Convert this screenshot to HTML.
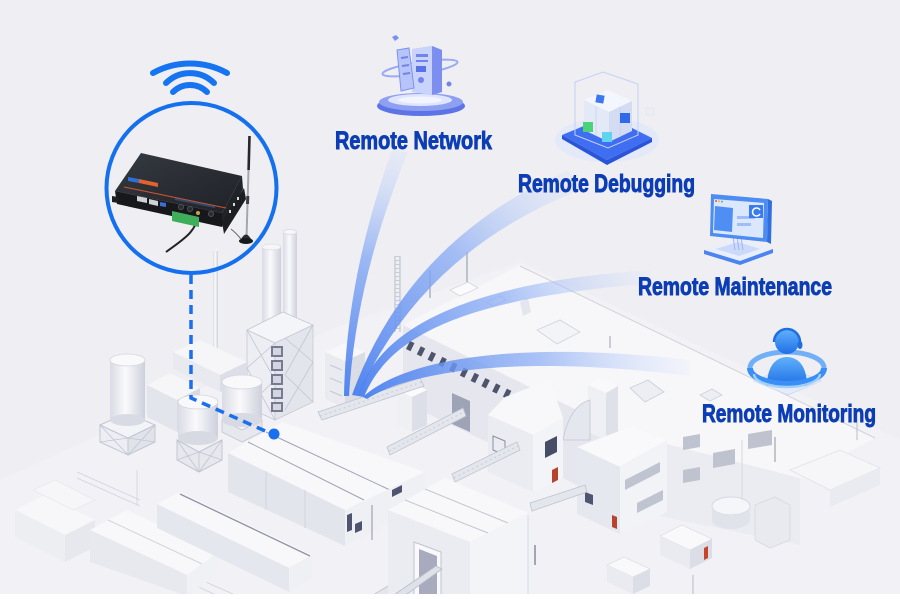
<!DOCTYPE html>
<html><head><meta charset="utf-8">
<style>
html,body{margin:0;padding:0;background:#efeff3;}
svg{display:block;}
.lbl{font-family:"Liberation Sans Narrow","Liberation Sans",Arial,sans-serif;font-weight:bold;fill:#0c3db4;stroke:#0c3db4;stroke-width:0.9;}
</style></head><body>
<svg width="900" height="599" viewBox="0 0 900 599" xmlns="http://www.w3.org/2000/svg">
<defs>
<linearGradient id="b1" gradientUnits="userSpaceOnUse" x1="346" y1="396" x2="400" y2="150">
<stop offset="0" stop-color="#4a80ef" stop-opacity="0.95"/><stop offset="0.55" stop-color="#86a9f4" stop-opacity="0.8"/><stop offset="1" stop-color="#c8d7fa" stop-opacity="0.2"/></linearGradient>
<linearGradient id="b2" gradientUnits="userSpaceOnUse" x1="355" y1="395" x2="575" y2="178">
<stop offset="0" stop-color="#4a80ef" stop-opacity="0.95"/><stop offset="0.55" stop-color="#89abf4" stop-opacity="0.75"/><stop offset="1" stop-color="#c8d7fa" stop-opacity="0.15"/></linearGradient>
<linearGradient id="b3" gradientUnits="userSpaceOnUse" x1="360" y1="396" x2="650" y2="276">
<stop offset="0" stop-color="#4a80ef" stop-opacity="0.95"/><stop offset="0.55" stop-color="#8aacf4" stop-opacity="0.7"/><stop offset="1" stop-color="#c8d7fa" stop-opacity="0.1"/></linearGradient>
<linearGradient id="b4" gradientUnits="userSpaceOnUse" x1="365" y1="398" x2="690" y2="368">
<stop offset="0" stop-color="#4a80ef" stop-opacity="0.95"/><stop offset="0.55" stop-color="#8aacf4" stop-opacity="0.7"/><stop offset="1" stop-color="#c8d7fa" stop-opacity="0.1"/></linearGradient>
<linearGradient id="cyl" x1="0" x2="1" y1="0" y2="0">
<stop offset="0" stop-color="#d9dbe5"/><stop offset="0.45" stop-color="#fafafc"/><stop offset="1" stop-color="#cdd0dc"/></linearGradient>
<linearGradient id="rt" x1="0" x2="1" y1="0" y2="1">
<stop offset="0" stop-color="#353a41"/><stop offset="1" stop-color="#1f2227"/></linearGradient>
<linearGradient id="gp" x1="0" x2="0" y1="0" y2="1">
<stop offset="0" stop-color="#5fb0fb"/><stop offset="1" stop-color="#1f6fe6"/></linearGradient>
<linearGradient id="srv" x1="0" x2="1" y1="0" y2="0">
<stop offset="0" stop-color="#c3cdfb"/><stop offset="1" stop-color="#8093ef"/></linearGradient>
</defs>

<rect width="900" height="599" fill="#efeff3"/>
<polygon points="0,480 330,330 520,262 900,440 900,599 0,599" fill="#f2f2f6"/>

<!-- Main building M -->
<polygon points="403,325 520,265 875,438 800,478 640,441" fill="#f7f7fa"/>
<polyline points="520,266 875,438" stroke="#d0d2dc" stroke-width="1" fill="none"/>
<polygon points="403,325 640,441 640,515 403,402" fill="#e6e7ee"/>
<line x1="408" y1="345" x2="540" y2="410" stroke="#4e546c" stroke-width="9" stroke-dasharray="5 7"/>
<!-- roof equipment -->
<polygon points="450,290 468,282 478,288 460,296" fill="#fbfbfd" stroke="#d3d6df" stroke-width="0.8"/>
<polygon points="487,302 500,296 506,300 493,306" fill="#fbfbfd" stroke="#d3d6df" stroke-width="0.8"/>
<polygon points="520,302 528,298 531,312 523,316" fill="#e4e6ed"/>
<polygon points="537,330 560,320 580,332 557,344" fill="#f3f4f7" stroke="#cfd2dc" stroke-width="0.8"/>
<polygon points="630,388 648,380 664,392 645,402" fill="#eceef3" stroke="#c9ccd6" stroke-width="0.8"/>
<polygon points="700,395 712,389 722,395 710,401" fill="#eceef3" stroke="#cdd0da" stroke-width="0.8"/>
<line x1="467" y1="252" x2="467" y2="282" stroke="#9ea2b2" stroke-width="1.2"/>
<line x1="430" y1="270" x2="430" y2="298" stroke="#9ea2b2" stroke-width="1.2"/>
<line x1="610" y1="336" x2="610" y2="348" stroke="#9ea2b2" stroke-width="1"/>
<line x1="395" y1="256" x2="395" y2="332" stroke="#b9bcc9" stroke-width="1"/>
<line x1="400" y1="256" x2="400" y2="332" stroke="#b9bcc9" stroke-width="1"/>
<line x1="397.5" y1="256" x2="397.5" y2="332" stroke="#c9ccd6" stroke-width="5" stroke-dasharray="1 3"/>

<!-- H section with window strips -->
<polygon points="620,432 800,478 800,545 620,508" fill="#ebecf2"/>
<polygon points="623,458 660,452 660,467 623,473" fill="#bfc2cf"/>
<polygon points="683,437 700,434 700,447 683,450" fill="#bfc2cf"/>
<polygon points="713,453 735,449 735,464 713,468" fill="#bfc2cf"/>
<polygon points="748,434 772,430 772,445 748,449" fill="#bfc2cf"/>
<polygon points="683,470 700,467 700,480 683,483" fill="#bfc2cf"/>
<polygon points="635,488 662,483 662,499 635,504" fill="#bfc2cf"/>
<line x1="742" y1="440" x2="742" y2="500" stroke="#d6d8e1" stroke-width="1"/>
<line x1="775" y1="437" x2="775" y2="462" stroke="#8e92a3" stroke-width="1"/>

<!-- right ground objects -->
<polygon points="790,470 840,450 880,468 830,490" fill="#f6f6f9" stroke="#e0e2e9" stroke-width="0.8"/>
<polygon points="830,490 880,468 880,485 830,507" fill="#e9ebf1"/>
<ellipse cx="731" cy="506" rx="19" ry="9" fill="#f5f6f9" stroke="#cfd2dc" stroke-width="0.8"/>
<path d="M712,506 L712,520 A19,9 0 0 0 750,520 L750,506 A19,9 0 0 1 712,506 Z" fill="#e1e3eb"/>
<polygon points="755,505 775,497 790,505 790,540 770,548 755,540" fill="#e8eaf0" stroke="#cfd2dc" stroke-width="0.6"/>
<polygon points="660,536 682,525 712,539 690,550" fill="#f9f9fb" stroke="#d6d8e0" stroke-width="0.6"/>
<polygon points="660,536 690,550 690,569 660,555" fill="#e9ebf1"/>
<polygon points="690,550 712,539 712,558 690,569" fill="#dcdee7"/>
<polygon points="704,548 708,546 708,558 704,560" fill="#c8452c"/>
<polygon points="607,565 624,557 650,569 633,577" fill="#f9f9fb" stroke="#d6d8e0" stroke-width="0.6"/>
<polygon points="607,565 633,577 633,594 607,582" fill="#e9ebf1"/>
<polygon points="633,577 650,569 650,586 633,594" fill="#dcdee7"/>
<line x1="693" y1="575" x2="693" y2="599" stroke="#b8bbc8" stroke-width="1"/>
<line x1="857" y1="410" x2="857" y2="440" stroke="#b8bbc8" stroke-width="1"/>

<!-- Tower G -->
<polygon points="588,385 600,378 618,386 606,393" fill="#f9f9fb"/>
<polygon points="588,385 606,393 606,440 588,432" fill="#eef0f4"/>
<polygon points="606,393 618,386 618,433 606,440" fill="#dfe1e9"/>
<path d="M563,440 Q570,405 590,400 L590,440 Z" fill="#e5e7ee" stroke="#c4c7d3" stroke-width="0.8"/>

<!-- Building F -->
<polygon points="577,447 630,427 667,440 620,467" fill="#f9f9fb"/>
<polygon points="577,447 620,467 620,534 577,514" fill="#e6e8ef"/>
<polygon points="620,467 667,440 667,512 620,534" fill="#f2f3f6"/>
<polygon points="625,480 660,462 660,472 625,490" fill="#c0c4d1"/>
<polygon points="637,503 663,490 663,500 637,513" fill="#c0c4d1"/>
<polygon points="585,492 593,495 593,505 585,502" fill="#4f5570"/>
<polygon points="612,515 617,517 617,529 612,527" fill="#b8432c"/>

<!-- Building E -->
<polygon points="488,415 505,397 550,380 563,418 533,435" fill="#f8f8fb"/>
<polygon points="488,415 533,435 533,492 488,472" fill="#eaecf1"/>
<polygon points="533,435 563,418 563,478 533,492" fill="#f3f4f7"/>
<polygon points="545,442 557,436 557,452 545,458" fill="#474d66"/>
<polygon points="552,470 558,467 558,480 552,483" fill="#b8432c"/>
<polygon points="493,436 505,441 505,455 493,450" fill="none" stroke="#8a8ea0" stroke-width="1"/>

<!-- annex stuff -->
<polygon points="452,393 470,401 470,432 452,424" fill="#9fa3b6"/>
<polygon points="397,390 412,383 427,390 412,397" fill="#fbfbfd"/>
<polygon points="397,390 412,397 412,432 397,425" fill="#eef0f4"/>
<polygon points="412,397 427,390 427,425 412,432" fill="#dcdfe8"/>
<polygon points="325,352 345,343 365,352 345,361" fill="#f8f8fb"/>
<polygon points="325,352 345,361 345,408 325,399" fill="#e9ebf1"/>
<polygon points="345,361 365,352 365,399 345,408" fill="#dadde6"/>
<line x1="330" y1="365" x2="342" y2="370" stroke="#c5c8d4" stroke-width="1"/>
<line x1="330" y1="378" x2="342" y2="383" stroke="#c5c8d4" stroke-width="1"/>
<line x1="330" y1="391" x2="342" y2="396" stroke="#c5c8d4" stroke-width="1"/>

<!-- conveyors -->
<g fill="#e4e6ed" stroke="#bfc3cf" stroke-width="0.8">
<polygon points="387,447 463,408 466,416 390,455"/>
<polygon points="452,474 517,442 520,450 455,482"/>
<polygon points="530,503 585,485 587,492 532,511"/>
<polygon points="318,412 420,378 424,386 322,420"/>
<polygon points="432,560 440,565 382,599 366,599"/>
</g>
<g stroke="#c9ccd7" stroke-width="1" stroke-dasharray="2 3" fill="none">
<line x1="389" y1="451" x2="464" y2="412"/>
<line x1="454" y1="478" x2="518" y2="446"/>
<line x1="320" y1="416" x2="422" y2="382"/>
</g>

<!-- chimneys & pipe -->
<rect x="262" y="247" width="19" height="85" fill="url(#cyl)"/>
<ellipse cx="271.5" cy="247" rx="9.5" ry="3" fill="#f6f6f9" stroke="#d2d5de" stroke-width="0.6"/>
<rect x="283" y="232" width="14" height="92" fill="url(#cyl)"/>
<ellipse cx="290" cy="232" rx="7" ry="2.4" fill="#f6f6f9" stroke="#d2d5de" stroke-width="0.6"/>
<rect x="213" y="250" width="5" height="138" fill="url(#cyl)"/>
<ellipse cx="215.5" cy="250" rx="2.5" ry="1.2" fill="#f1f2f6"/>

<!-- tower -->
<polygon points="247,330 283,312 313,325 275,343" fill="#f4f5f8" stroke="#c6c9d4" stroke-width="0.8"/>
<polygon points="247,330 275,343 275,420 247,407" fill="#eceef3" stroke="#c6c9d4" stroke-width="0.8"/>
<polygon points="275,343 313,325 313,402 275,420" fill="#e3e5ec" stroke="#c6c9d4" stroke-width="0.8"/>
<g stroke="#c3c6d2" stroke-width="0.8">
<line x1="247" y1="330" x2="275" y2="380"/><line x1="275" y1="343" x2="247" y2="368"/>
<line x1="247" y1="368" x2="275" y2="420"/><line x1="275" y1="380" x2="247" y2="407"/>
<line x1="285" y1="338" x2="313" y2="362"/><line x1="313" y1="325" x2="285" y2="375"/>
<line x1="285" y1="375" x2="313" y2="402"/><line x1="313" y1="362" x2="285" y2="410"/>
</g>
<g fill="#767b92">
<rect x="271" y="346" width="12" height="11"/><rect x="271" y="360" width="12" height="11"/>
<rect x="271" y="374" width="12" height="11"/><rect x="271" y="388" width="12" height="11"/>
<rect x="271" y="402" width="12" height="10"/>
</g>
<g fill="#d3d6e0">
<rect x="273" y="348" width="8" height="7"/><rect x="273" y="362" width="8" height="7"/>
<rect x="273" y="376" width="8" height="7"/><rect x="273" y="390" width="8" height="7"/>
<rect x="273" y="404" width="8" height="6"/>
</g>

<!-- low buildings behind tanks -->
<polygon points="173,352 200,340 247,362 220,375" fill="#f6f6f9"/>
<polygon points="173,352 220,375 220,392 173,369" fill="#e8eaf0"/>
<polygon points="220,375 247,362 247,379 220,392" fill="#dcdfe7"/>
<polygon points="147,385 170,373 200,388 177,400" fill="#f6f6f9"/>
<polygon points="147,385 177,400 177,432 147,417" fill="#e3e5ec"/>
<polygon points="177,400 200,388 200,420 177,432" fill="#d7dae4"/>

<!-- tank 1 -->
<polygon points="100,425 128,438 128,455 100,442" fill="#eceef3" stroke="#c2c5d1" stroke-width="1"/>
<polygon points="128,438 155,425 155,442 128,455" fill="#e1e3eb" stroke="#c2c5d1" stroke-width="1"/>
<polygon points="100,425 127,413 155,425 128,438" fill="#f3f4f7" stroke="#c2c5d1" stroke-width="1"/>
<g stroke="#c2c5d1" stroke-width="0.8"><line x1="100" y1="425" x2="128" y2="455"/><line x1="128" y1="438" x2="100" y2="442"/><line x1="128" y1="438" x2="155" y2="442"/><line x1="155" y1="425" x2="128" y2="455"/></g>
<rect x="110" y="360" width="35" height="60" fill="url(#cyl)"/>
<ellipse cx="127.5" cy="420" rx="17.5" ry="6" fill="#d9dbe4"/>
<ellipse cx="127.5" cy="360" rx="17.5" ry="6" fill="#f9f9fb" stroke="#d3d6df" stroke-width="0.8"/>

<!-- tank 3 -->
<polygon points="222,420 242,430 262,420 262,432 242,442 222,432" fill="#e6e8ee" stroke="#c2c5d1" stroke-width="0.8"/>
<rect x="222" y="382" width="40" height="38" fill="url(#cyl)"/>
<ellipse cx="242" cy="420" rx="20" ry="7" fill="#d7dae3"/>
<ellipse cx="242" cy="382" rx="20" ry="7" fill="#f9f9fb" stroke="#d3d6df" stroke-width="0.8"/>

<!-- tank 2 -->
<polygon points="177,440 199,452 222,440 222,460 199,472 177,460" fill="#e6e8ee" stroke="#c2c5d1" stroke-width="1"/>
<g stroke="#c2c5d1" stroke-width="0.8"><line x1="177" y1="440" x2="199" y2="472"/><line x1="199" y1="452" x2="177" y2="460"/><line x1="199" y1="452" x2="222" y2="460"/><line x1="222" y1="440" x2="199" y2="472"/><line x1="199" y1="452" x2="199" y2="472"/></g>
<rect x="178" y="402" width="40" height="36" fill="url(#cyl)"/>
<ellipse cx="198" cy="438" rx="20" ry="7" fill="#d7dae3"/>
<ellipse cx="198" cy="402" rx="20" ry="7" fill="#f9f9fb" stroke="#d3d6df" stroke-width="0.8"/>

<!-- left railings -->
<g stroke="#cfd2dc" stroke-width="0.8" fill="none">
<polyline points="77,472 140,500"/><polyline points="77,478 140,506"/>
<line x1="137" y1="470" x2="137" y2="505"/>
<polyline points="183,572 233,594"/><polyline points="183,580 225,599"/>
</g>

<!-- Building D (faint far-left) -->
<polygon points="15,510 45,495 95,520 65,535" fill="#f7f7f9"/>
<polygon points="15,510 65,535 65,562 15,537" fill="#eceef2"/>
<polygon points="65,535 95,520 95,547 65,562" fill="#e6e8ee"/>
<polygon points="33,490 55,480 95,500 73,510" fill="#f6f6f8" stroke="#e3e5eb" stroke-width="0.6"/>

<!-- Building C -->
<polygon points="90,530 127,510 217,553 187,575" fill="#f8f8fa"/>
<polygon points="90,530 187,575 187,596 90,562" fill="#e7e9ef"/>
<polygon points="187,575 217,553 217,575 187,596" fill="#f0f1f5"/>
<line x1="108" y1="520" x2="202" y2="564" stroke="#d2d5de" stroke-width="1"/>

<!-- Building B -->
<polygon points="157,504 180,492 312,555 289,568" fill="#f8f8fa"/>
<polygon points="157,504 289,568 289,592 157,528" fill="#e5e7ee"/>
<polygon points="289,568 312,555 312,579 289,592" fill="#eff0f4"/>
<line x1="180" y1="494" x2="310" y2="556" stroke="#8e92a4" stroke-width="1.3"/>

<!-- Building A -->
<polygon points="228,453 282,422 425,472 345,510" fill="#f8f8fa"/>
<line x1="248" y1="442" x2="364" y2="500" stroke="#9ea2b3" stroke-width="1"/>
<line x1="266" y1="432" x2="390" y2="490" stroke="#9ea2b3" stroke-width="1"/>
<polygon points="228,453 345,510 345,546 228,492" fill="#e3e5ed"/>
<line x1="266" y1="471" x2="266" y2="510" stroke="#d2d5de" stroke-width="1"/>
<line x1="305" y1="490" x2="305" y2="528" stroke="#d2d5de" stroke-width="1"/>
<polygon points="345,510 425,472 425,505 345,546" fill="#eef0f4"/>
<polygon points="347,515 352,513 352,530 347,532" fill="#4f5570"/>
<polygon points="355,524 362,521 362,530 355,533" fill="#4f5570"/>
<polygon points="392,490 402,485 402,492 392,497" fill="#4f5570"/>
<line x1="372" y1="505" x2="372" y2="540" stroke="#8e92a3" stroke-width="1"/>

<!-- Building I (front) -->
<polygon points="388,510 445,478 528,513 470,542" fill="#f8f8fa"/>
<line x1="405" y1="500" x2="488" y2="533" stroke="#c4c7d2" stroke-width="1"/>
<line x1="425" y1="489" x2="508" y2="523" stroke="#c4c7d2" stroke-width="1"/>
<polygon points="388,510 470,542 470,596 388,596" fill="#ebecf2"/>
<polygon points="470,542 528,513 528,596 470,596" fill="#f3f4f7"/>
<polygon points="414,542 441,552 441,596 414,596" fill="#f9f9fb" stroke="#c0c3cf" stroke-width="1"/>
<polygon points="419,549 437,556 437,596 419,596" fill="#a7abbd"/>
<polygon points="436,566 442,569 400,599 388,599" fill="#dfe1e8" stroke="#b9bcc9" stroke-width="0.8"/>
<line x1="528" y1="515" x2="528" y2="596" stroke="#d8dae2" stroke-width="1"/>
<line x1="535" y1="545" x2="535" y2="565" stroke="#6e7286" stroke-width="1.2"/>

<rect x="0" y="594" width="900" height="5" fill="#ffffff"/>

<!-- beams -->
<path d="M344,396 Q346,278 392,150 L408,152 Q356,278 349,396 Z" fill="url(#b1)"/>
<path d="M352,395 Q408,240 568,170 L580,190 Q422,252 358,396 Z" fill="url(#b2)"/>
<path d="M358,396 C376,338 446,284 650,270 L650,284 C452,298 386,342 364,397 Z" fill="url(#b3)"/>
<path d="M363,397 C398,364 500,338 690,360 L690,376 C500,352 402,376 367,399 Z" fill="url(#b4)"/>

<!-- dashed connector -->
<path d="M191,275 L191,398 L272,434" stroke="#1a6ff0" stroke-width="3.5" fill="none" stroke-dasharray="9 6"/>
<circle cx="274" cy="434" r="5.5" fill="#1a6ff0"/>

<!-- wifi -->
<g stroke="#1674f0" stroke-width="6" fill="none" stroke-linecap="round">
<path d="M153,73 A77,77 0 0 1 227,73"/>
<path d="M166,83 A34,34 0 0 1 214,83"/>
<path d="M173,92 A24,24 0 0 1 207,92"/>
</g>

<!-- circle -->
<circle cx="191.5" cy="188" r="85" fill="none" stroke="#1570ef" stroke-width="4"/>

<!-- router -->
<path d="M198,214 C197,232 182,240 166,252" stroke="#222428" stroke-width="2" fill="none"/>
<line x1="249.5" y1="136" x2="246.5" y2="238" stroke="#a3a7ae" stroke-width="2"/>
<line x1="249.5" y1="136" x2="248.6" y2="170" stroke="#25282d" stroke-width="2.6"/>
<line x1="247.8" y1="196" x2="247.5" y2="204" stroke="#3a3d44" stroke-width="3"/>
<path d="M240,241 Q246,228 252,241 Z" fill="#2a2c31"/>
<ellipse cx="246" cy="241" rx="7" ry="3" fill="#17191c"/>
<path d="M241,239 Q236,233 231,229" stroke="#666" stroke-width="1" fill="none"/>
<polygon points="141,153 242,176 222,213 115,191" fill="url(#rt)"/>
<polygon points="115,191 222,213 222,227 117,204" fill="#16181b"/>
<polygon points="222,213 242,176 243,189 222,227" fill="#202328"/>
<polygon points="222,222 244,188 246,199 224,234" fill="#1c1e22"/>
<g fill="#d8dade"><rect x="233" y="203" width="2" height="3"/><rect x="237" y="197" width="2" height="3"/><rect x="229" y="210" width="2" height="3"/></g>
<polygon points="112,196 118,197 118,203 112,202" fill="#1c1e22"/>
<line x1="124" y1="187" x2="226" y2="208" stroke="#c9552c" stroke-width="1.1"/>
<polygon points="128,177 139,179 139,183 128,181" fill="#2f6fd8"/>
<polygon points="139,179 158,183 158,187 139,183" fill="#e0622e"/>
<polygon points="137,196 147,198 147,203 137,201" fill="#cfd1d5"/>
<polygon points="149,199 158,201 158,206 149,204" fill="#cfd1d5"/>
<polygon points="160,202 166,203 166,207 160,206" fill="#3c6fd6"/>
<polygon points="172,211 199,217 199,227 172,221" fill="#3fae5a"/>
<circle cx="181" cy="207" r="2.6" fill="#2a2c30" stroke="#55585e" stroke-width="0.8"/>
<circle cx="190" cy="209" r="2.6" fill="#2a2c30" stroke="#55585e" stroke-width="0.8"/>
<circle cx="211" cy="214" r="2.6" fill="#2a2c30" stroke="#55585e" stroke-width="0.8"/>
<circle cx="198" cy="213" r="2" fill="#c9a24a"/>
<polygon points="175,198 215,206 215,208 175,200" fill="#3a5f9a" opacity="0.6"/>

<!-- Network icon -->
<ellipse cx="421" cy="106" rx="44" ry="10" fill="#5d74e6"/>
<ellipse cx="421" cy="102" rx="42" ry="9" fill="#8ea0f2"/>
<ellipse cx="420" cy="100" rx="32" ry="6" fill="#dfe5fd"/>
<ellipse cx="420" cy="100" rx="22" ry="3.5" fill="#f2f4ff"/>
<ellipse cx="420" cy="68" rx="38" ry="6" fill="none" stroke="#9aabf3" stroke-width="2" transform="rotate(-9 420 68)"/>
<polygon points="412,49 432,46 442,50 442,92 432,95 412,92" fill="url(#srv)"/>
<polygon points="412,49 432,46 432,95 412,92" fill="#c9d3fc"/>
<polygon points="432,46 442,50 442,92 432,95" fill="#7c8fee"/>
<rect x="416" y="54" width="12" height="3" fill="#6f84ec"/>
<rect x="416" y="60" width="12" height="2" fill="#6f84ec"/>
<rect x="416" y="66" width="10" height="6" fill="#5a72e8"/>
<circle cx="421" cy="80" r="3" fill="#6f84ec"/>
<polygon points="397,50 409,48 414,88 401,91" fill="#b7c4fa" stroke="#7d92ef" stroke-width="1"/>
<line x1="401" y1="58" x2="408" y2="57" stroke="#6f84ec" stroke-width="2"/>
<line x1="402" y1="66" x2="409" y2="65" stroke="#6f84ec" stroke-width="2"/>
<line x1="403" y1="74" x2="410" y2="73" stroke="#6f84ec" stroke-width="2"/>
<polygon points="392,37 396,35 399,38 395,41" fill="#7a8ff0"/>
<circle cx="449" cy="84" r="2.5" fill="#6f84ec"/>

<!-- Debugging icon -->
<ellipse cx="607" cy="140" rx="52" ry="22" fill="#dbe4fb" opacity="0.6"/>
<polygon points="562,135 607,160 652,138 652,142 607,165 562,139" fill="#2a55d8"/>
<polygon points="562,135 608,116 652,138 607,160" fill="#3f6ef0"/>
<polygon points="575,82 603,72 638,84 638,135 608,148 575,135" fill="none" stroke="#c3d1f6" stroke-width="1"/>
<polygon points="584,100 608,90 632,101 609,112" fill="#f4f6fd"/>
<polygon points="584,100 609,112 609,142 584,130" fill="#e4e9f8"/>
<polygon points="609,112 632,101 632,131 609,142" fill="#d4dcf4"/>
<line x1="596" y1="106" x2="596" y2="136" stroke="#c7d2ef" stroke-width="0.8"/>
<line x1="620" y1="107" x2="620" y2="137" stroke="#c7d2ef" stroke-width="0.8"/>
<rect x="596" y="95" width="8" height="8" fill="#3a78f0" transform="rotate(10 600 99)"/>
<rect x="583" y="122" width="10" height="10" fill="#4cd37a"/>
<rect x="602" y="132" width="10" height="10" fill="#5fd3f0"/>
<rect x="620" y="113" width="10" height="10" fill="#2f6be8"/>
<rect x="646" y="108" width="8" height="7" fill="#eceef4" stroke="#dfe2ea" stroke-width="0.6"/>

<!-- Maintenance icon -->
<polygon points="704,250 738,239 773,249 740,261" fill="#e9eefb"/>
<polygon points="704,250 740,261 773,249 773,253 740,265 704,254" fill="#4b84ee"/>
<polygon points="716,249 738,242 760,249 739,256" fill="#cbdafa"/>
<g stroke="#9db7f0" stroke-width="1"><line x1="733" y1="236" x2="735" y2="250"/><line x1="737" y1="236" x2="739" y2="250"/><line x1="741" y1="237" x2="743" y2="250"/></g>
<polygon points="768,199 772,201 771,244 767,242" fill="#2f6fe0"/>
<polygon points="711,194 768,199 767,242 710,236" fill="#4d8cf2"/>
<polygon points="714,199 764,203 763,238 713,233" fill="#dbe7fd"/>
<polygon points="715,206 733,208 732,232 714,230" fill="#4f8ff3"/>
<rect x="737" y="216" width="18" height="3" fill="#9fbef6"/>
<rect x="737" y="223" width="14" height="3" fill="#9fbef6"/>
<rect x="749" y="205" width="14" height="13" fill="#3a7cf0"/>
<path d="M760,210 A4,4 0 1 0 760,214" stroke="#ffffff" stroke-width="1.5" fill="none"/>
<circle cx="716" cy="201" r="1" fill="#e94c4c"/><circle cx="719" cy="201.3" r="1" fill="#f2b33d"/><circle cx="722" cy="201.6" r="1" fill="#4cc46a"/>

<!-- Monitoring icon -->
<polygon points="754,381 787,367 821,381 788,395" fill="#e6ecf7" stroke="#cfdcf3" stroke-width="1"/>
<path d="M750,368 A37,16 0 0 1 824,368" stroke="#5aa3f7" stroke-width="5" fill="none" opacity="0.85"/>
<path d="M767,386 C767,366 776,357 787,357 C798,357 807,366 807,386 Z" fill="url(#gp)"/>
<circle cx="787" cy="342" r="12" fill="url(#gp)"/>
<path d="M774,342 A13,13 0 0 1 800,342" stroke="#1f6fe0" stroke-width="2.5" fill="none"/>
<ellipse cx="800" cy="345" rx="2.5" ry="4" fill="#1f6fe0"/>
<path d="M750,368 A37,16 0 0 0 824,368" stroke="#3a8ef5" stroke-width="6" fill="none"/>
<path d="M754,374 A33,13 0 0 0 820,374" stroke="#9fd0fb" stroke-width="2.5" fill="none"/>

<!-- labels -->
<text class="lbl" x="335" y="149" font-size="25" textLength="157" lengthAdjust="spacingAndGlyphs">Remote Network</text>
<text class="lbl" x="518" y="192" font-size="25" textLength="177" lengthAdjust="spacingAndGlyphs">Remote Debugging</text>
<text class="lbl" x="638" y="295" font-size="25" textLength="194" lengthAdjust="spacingAndGlyphs">Remote Maintenance</text>
<text class="lbl" x="702" y="422" font-size="25" textLength="174" lengthAdjust="spacingAndGlyphs">Remote Monitoring</text>
</svg>
</body></html>
